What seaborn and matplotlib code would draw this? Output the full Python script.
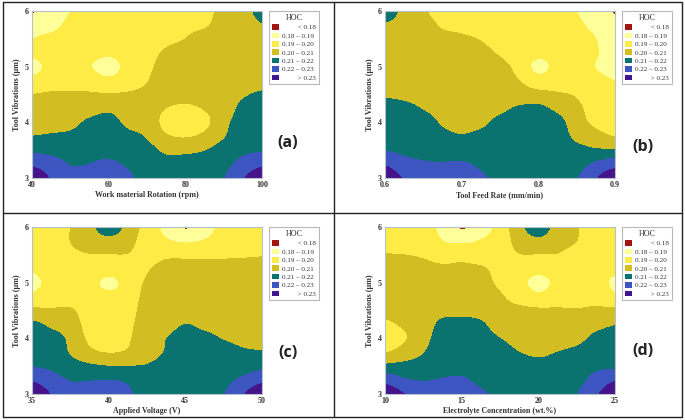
import numpy as np
import matplotlib
matplotlib.use("Agg")
import matplotlib.pyplot as plt
from matplotlib.lines import Line2D
from matplotlib.patches import Patch
import seaborn as sns

# DATA : HOC, in thousandths. One list per x value, y from 6 down to 3

y_values = [6, 5.75, 5.5, 5.25, 5, 4.75, 4.5, 4.25, 4, 3.75, 3.5, 3.25, 3]

x_a = [40, 45, 50, 55, 60, 65, 70, 75, 80, 85, 90, 95, 100]
hoc_a = [
    [179, 186, 190, 192, 186, 193, 200, 203, 206, 210, 218, 228, 236],
    [183, 187, 192, 194, 193, 195, 201, 204, 206, 211, 217, 224, 229],
    [190, 192, 194, 195, 194, 196, 201, 204, 207, 212, 217, 219.5, 224],
    [191, 192, 193, 193, 190.5, 195, 201, 206, 211.5, 215, 218, 220, 223],
    [192, 193, 194, 191.5, 186, 192, 200.5, 208, 213, 216, 218, 221, 224],
    [193, 194, 195, 194, 193, 195, 201, 205, 208, 212, 216, 219, 221],
    [194, 195, 196, 197, 198, 199.5, 202, 204, 207, 209, 213, 216, 218],
    [195, 196, 198, 201, 203, 204, 203, 199.8, 196, 201, 208, 213, 216],
    [196, 198, 200, 203, 205, 205, 203, 198, 193, 199, 208, 213, 216],
    [198, 199, 203, 205, 206, 206, 204, 200.5, 197, 202, 209.5, 214, 218],
    [202, 203, 205, 206, 207, 207, 206, 205, 207, 209, 214, 217, 219.5],
    [206, 205, 205, 205, 206, 207, 209, 212, 214, 216, 218, 223, 229],
    [213, 209.5, 207, 205, 205, 207, 211, 214, 216, 218, 219, 228, 236],
]

x_b = [0.6, 0.625, 0.65, 0.675, 0.7, 0.725, 0.75, 0.775, 0.8, 0.825, 0.85, 0.875, 0.9]
hoc_b = [
    [215, 209, 207, 206, 206, 206, 209, 213, 215, 217, 219.5, 229, 236],
    [207, 206, 205, 205, 205, 206, 208, 212, 214, 216, 218, 223, 229],
    [201, 203, 204, 204, 204, 205, 207, 209.5, 213, 215, 217, 221, 225],
    [197, 199, 202, 203, 204, 204, 205, 207, 209, 212, 216, 220.5, 224],
    [196, 198, 201, 203, 204, 204, 204, 205, 207, 210.5, 215, 221, 224],
    [194, 196, 199.5, 202, 203, 204, 204, 206, 208, 212, 215, 218.5, 221],
    [193, 194, 196, 199, 202, 203, 205, 208, 212, 214, 215, 217, 218],
    [192, 193, 194, 195, 197, 200, 204, 211, 213, 214, 215, 216, 217],
    [192, 192, 193, 192.5, 187, 194, 203, 212, 214, 215, 216, 217, 218],
    [191.5, 192, 193, 193, 193, 195, 201, 207.5, 213, 215, 216, 217, 218],
    [190, 191, 192, 193, 193, 195, 199, 202, 204, 207, 213, 216, 219.5],
    [186, 188, 190, 190.5, 189.8, 192, 194, 196, 198, 203, 211, 221.5, 229],
    [179, 183, 185, 186, 187, 190, 193, 195, 197.5, 199.5, 211, 226, 236],
]

x_c = [35, 36.25, 37.5, 38.75, 40, 41.25, 42.5, 43.75, 45, 46.25, 47.5, 48.75, 50]
hoc_c = [
    [192, 193, 194, 191, 187, 192, 202, 212, 214, 217, 219.5, 229, 236],
    [194, 195, 196, 195, 193, 195, 201, 208, 213, 215.5, 218, 224, 229.5],
    [200, 200, 198, 196, 195, 196, 201, 205, 208, 209, 214, 219.5, 224],
    [206, 204, 199.5, 196, 194, 195, 195, 196, 198, 202, 211.5, 219.5, 224],
    [216, 206, 199.5, 195, 187, 193, 194, 195, 197, 199.5, 210, 220, 223],
    [206, 203, 199.5, 196, 194, 194, 196, 198, 199, 201, 210, 218.5, 221],
    [196, 195, 196, 199, 201, 203, 204, 204, 205, 206, 210.5, 214, 217],
    [187, 191, 198, 203, 204, 205, 205, 206.5, 209.8, 210.5, 213, 216, 217],
    [179, 188.5, 198, 203, 204, 205, 206, 210, 213, 214, 215, 216, 217],
    [186, 190.5, 198, 203, 204, 205, 206, 208, 212, 214, 215, 217, 218],
    [192, 194, 198.5, 203, 204, 205, 205, 206.5, 209.5, 213, 215, 217, 219.5],
    [194, 196, 199, 203, 204, 204, 205, 206, 208, 211, 215, 222, 229],
    [195, 197, 199.5, 203, 203, 204, 205, 206, 208, 210.5, 217, 227.5, 236],
]

x_d = [10, 11.25, 12.5, 13.75, 15, 16.25, 17.5, 18.75, 20, 21.25, 22.5, 23.75, 25]
hoc_d = [
    [194, 197, 200.2, 203, 204, 203, 201.5, 198.8, 196, 199.5, 212, 226.5, 236],
    [195, 197.5, 200, 203, 204, 204, 203, 201, 199, 203.5, 213, 221, 230],
    [196, 197, 199, 202.5, 204, 205, 205, 205, 206.5, 209.5, 214, 219.5, 225],
    [186, 190, 196, 201.5, 204, 205, 207, 212, 214, 215, 217, 220.5, 224],
    [179, 188, 197, 201.5, 203, 205, 208, 212, 214, 215, 217, 221, 224],
    [184, 190.5, 195, 201, 203, 205, 207, 211, 213, 215, 216, 218, 221],
    [194, 195, 196, 197, 198, 201, 203, 206, 210, 214, 216, 217, 218],
    [206, 203, 199.5, 195, 193, 196, 202, 204, 206, 210, 214.5, 216, 217],
    [216, 207, 199.5, 193, 187, 192, 201.3, 204, 206, 208, 213, 215, 216],
    [205, 202.5, 199.5, 195, 192, 195, 201, 204, 206, 210, 214, 216, 217],
    [200.5, 200, 197, 195, 194, 196, 200.5, 203, 207, 212, 215, 217, 219.5],
    [194, 194.5, 195, 195, 194, 196.5, 201.5, 207, 212, 215, 218, 223, 228.5],
    [193, 193.5, 194, 192, 188, 192, 202, 209.5, 213, 215.5, 218, 229, 236],
]

x_ticks_a = [40, 60, 80, 100]
x_ticks_b = [0.6, 0.7, 0.8, 0.9]
x_ticks_c = [35, 40, 45, 50]
x_ticks_d = [10, 15, 20, 25]
y_ticks = [3, 4, 5, 6]

x_label_a = "Work material Rotation (rpm)"
x_label_b = "Tool Feed Rate (mm/min)"
x_label_c = "Applied Voltage (V)"
x_label_d = "Electrolyte Concentration (wt.%)"
y_label = "Tool Vibrations (µm)"

levels = [0, 0.18, 0.19, 0.20, 0.21, 0.22, 0.23, 1]
legend_labels = [
    "         < 0.18",
    "0.18 – 0.19",
    "0.19 – 0.20",
    "0.20 – 0.21",
    "0.21 – 0.22",
    "0.22 – 0.23",
    "         > 0.23",
]
colors = sns.color_palette(
    ["#A31414", "#FFFF99", "#FFEB46", "#D2BE23", "#0A7370", "#3C55C0", "#45148C"]
)

# STYLE

sns.set_theme(style="white")
plt.rcParams["font.family"] = ["Liberation Serif", "DejaVu Serif"]

W, H = 685, 420
STEPS = 10
fig = plt.figure(figsize=(W / 100, H / 100), dpi=100)


def smooth_axis(z):
    # catmull-rom between the read values so the contour edges are not angular
    z = np.moveaxis(z, 0, -1)
    rows = []
    for i in range(z.shape[-1] - 1):
        p0 = z[..., max(i - 1, 0)]
        p1 = z[..., i]
        p2 = z[..., i + 1]
        p3 = z[..., min(i + 2, z.shape[-1] - 1)]
        for t in np.arange(STEPS) / STEPS:
            rows.append(p1 + 0.5 * t * (p2 - p0 + t * (2 * p0 - 5 * p1 + 4 * p2 - p3
                                                      + t * (3 * (p1 - p2) + p3 - p0))))
    rows.append(z[..., -1])
    return np.stack(rows)


def panel(left, top, x_vals, hoc, x_ticks, x_label, tag, tag_x, tag_y):
    # pixel box of the plot area is 230 x 167
    ax = fig.add_axes([left / W, 1 - (top + 167) / H, 230 / W, 167 / H])
    z = np.array(hoc) / 1000
    fine = smooth_axis(smooth_axis(z).T)          # rows: y, columns: x
    fine_x = np.interp(np.arange(fine.shape[1]) / STEPS, np.arange(len(x_vals)), x_vals)
    fine_y = np.interp(np.arange(fine.shape[0]) / STEPS, np.arange(len(y_values)), y_values)
    ax.contourf(fine_x, fine_y, fine, levels=levels, colors=colors)
    ax.set_xlim(x_vals[0], x_vals[-1])
    ax.set_ylim(3, 6)
    ax.set_xticks(x_ticks)
    ax.set_yticks(y_ticks)
    ax.tick_params(length=0, pad=2.5, labelsize=5.8)
    for lab in ax.get_xticklabels() + ax.get_yticklabels():
        lab.set_fontweight("bold")
        lab.set_color("#333333")
    ax.set_xlabel(x_label, fontsize=5.7, fontweight="bold", color="#333333", labelpad=1)
    ax.set_ylabel(y_label, fontsize=5.9, fontweight="bold", color="#333333", labelpad=2.5)
    for s in ax.spines.values():
        s.set_color("#B4C0CC")
        s.set_linewidth(0.8)

    handles = [Patch(facecolor=c, edgecolor="none") for c in colors]
    leg = ax.legend(
        handles, legend_labels, title="HOC", fontsize=5.1, title_fontsize=5.8,
        loc="upper left", bbox_to_anchor=((left + 237) / W, 1 - top / H),
        bbox_transform=fig.transFigure, borderaxespad=0, fancybox=False,
        framealpha=1, edgecolor="#B8B8B8", handlelength=1.0, handleheight=0.85,
        handletextpad=0.42, labelspacing=0.3, borderpad=0.42,
    )
    leg.get_frame().set_linewidth(0.8)
    for t in leg.get_texts():
        t.set_color("#333333")
    leg.get_title().set_color("#333333")

    fig.text(tag_x / W, 1 - tag_y / H, tag, fontsize=11.5, fontweight="bold",
             family="Open Sans", color="#222222", ha="center", va="center")


panel(32, 11, x_a, hoc_a, x_ticks_a, x_label_a, "(a)", 288, 143)
panel(385, 11, x_b, hoc_b, x_ticks_b, x_label_b, "(b)", 643, 147)
panel(32, 227, x_c, hoc_c, x_ticks_c, x_label_c, "(c)", 288, 353)
panel(385, 227, x_d, hoc_d, x_ticks_d, x_label_d, "(d)", 643, 351)

# FRAME AROUND THE FOUR PANELS

frame = [
    ([3, 682], [2, 2]),
    ([3, 682], [212.5, 212.5]),
    ([3, 682], [417, 417]),
    ([3, 3], [2, 417]),
    ([334, 334], [2, 417]),
    ([682, 682], [2, 417]),
]
for xs, ys in frame:
    fig.add_artist(Line2D([x / W for x in xs], [1 - y / H for y in ys],
                          color="#222222", linewidth=1.0))

fig.savefig("out.png", dpi=100)
